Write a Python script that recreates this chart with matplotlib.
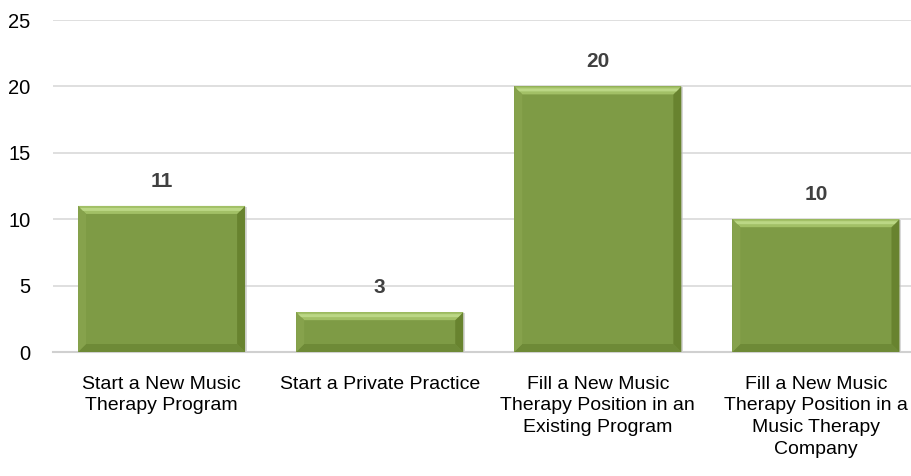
import matplotlib
matplotlib.use("Agg")
import matplotlib.pyplot as plt
from matplotlib.patches import Polygon, Rectangle
import numpy as np

plt.rcParams['font.family'] = ['Liberation Sans', 'DejaVu Sans']

categories = ["Start a New Music\nTherapy Program",
              "Start a Private Practice",
              "Fill a New Music\nTherapy Position in an\nExisting Program",
              "Fill a New Music\nTherapy Position in a\nMusic Therapy\nCompany"]
values = [11, 3, 20, 10]
yticks = [0, 5, 10, 15, 20, 25]

W, H = 911, 476
fig = plt.figure(figsize=(W / 100, H / 100), dpi=100)
ax_left, ax_right = 52.5, 925.0
ax_top, ax_bot = 20.0, 352.0
ax = fig.add_axes([ax_left / W, (H - ax_bot) / H, (ax_right - ax_left) / W, (ax_bot - ax_top) / H])

x = np.arange(len(categories))
width = 0.766
main = "#7E9B45"
bars = ax.bar(x, values, width=width, color=main, zorder=3, linewidth=0)

ax.set_xlim(-0.5, len(categories) - 0.5)
ax.set_ylim(0, 25)
ax.set_yticks(yticks)
ax.set_yticklabels([str(t) for t in yticks], fontsize=14.5, color="black")
ax.set_xticks(x)
ax.set_xticklabels(categories, fontsize=14, color="black", linespacing=1.36)
ax.tick_params(axis='both', length=0)
ax.tick_params(axis='y', pad=16)
ax.tick_params(axis='x', pad=17)
ax.grid(axis='y', color="#D9D9D9", linewidth=1.2, zorder=0)
ax.set_axisbelow(True)
for s in ['top', 'right', 'left']:
    ax.spines[s].set_visible(False)
ax.spines['bottom'].set_color("#D0D0D0")
ax.spines['bottom'].set_linewidth(1.5)

# bevel decoration
fig.canvas.draw()
inv = ax.transData.inverted()
bev = 8.0
for b in bars:
    x0, y0 = b.get_x(), b.get_y()
    x1, y1 = x0 + b.get_width(), y0 + b.get_height()
    (px0, py0), (px1, py1) = ax.transData.transform([(x0, y0), (x1, y1)])
    # shadow
    shp = inv.transform([(px0 + 1, py0 - 2), (px1 + 2, py1 - 1)])
    ax.add_patch(Rectangle(shp[0], shp[1][0] - shp[0][0], shp[1][1] - shp[0][1],
                           facecolor="#BEBEBE", alpha=0.6, zorder=2.5, linewidth=0))
    b_ = min(bev, (py1 - py0) / 3)
    outer = [(px0, py0), (px1, py0), (px1, py1), (px0, py1)]
    inner = [(px0 + b_, py0 + b_), (px1 - b_, py0 + b_), (px1 - b_, py1 - b_), (px0 + b_, py1 - b_)]
    sides = {
        'bottom': ([outer[0], outer[1], inner[1], inner[0]], "#6E8A37"),
        'right': ([outer[1], outer[2], inner[2], inner[1]], "#68832F"),
        'top': ([outer[2], outer[3], inner[3], inner[2]], "#A2C066"),
        'left': ([outer[3], outer[0], inner[0], inner[3]], "#86A24C"),
    }
    for name, (pts, col) in sides.items():
        ax.add_patch(Polygon(inv.transform(pts), closed=True, facecolor=col,
                             linewidth=0, zorder=3.5))
    # highlight strip near the top edge
    hl = [(px0 + 2, py1 - 2), (px1 - 2, py1 - 2), (px1 - 5, py1 - 5), (px0 + 5, py1 - 5)]
    ax.add_patch(Polygon(inv.transform(hl), closed=True, facecolor="#BBD785",
                         linewidth=0, zorder=3.6))
    ax.annotate(f"{b.get_height():g}", (b.get_x() + b.get_width() / 2, y1),
                xytext=(0, 11), textcoords='offset points', ha='center', va='bottom',
                fontsize=15, fontweight='bold', color="#404040", zorder=5)

fig.savefig("out.png", dpi=100)
